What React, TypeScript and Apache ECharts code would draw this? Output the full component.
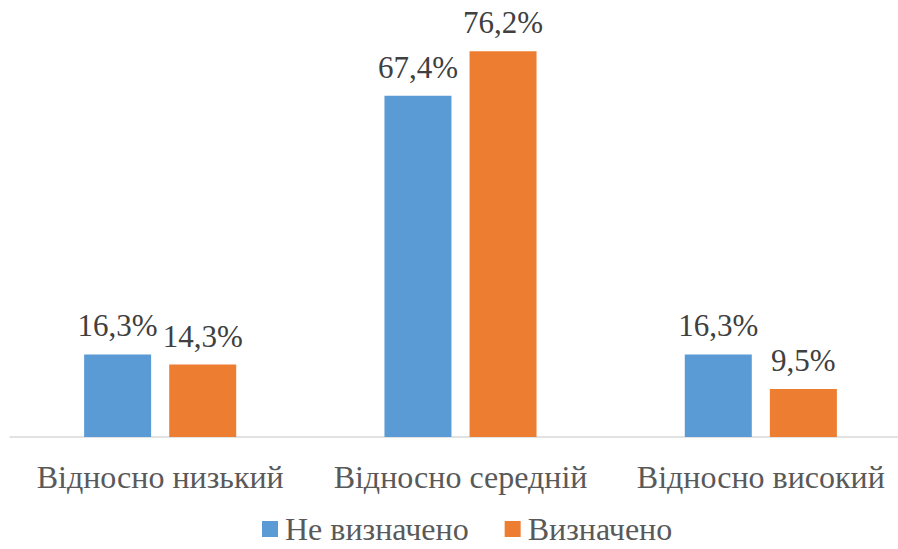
import React, { useEffect, useRef } from "react";
import * as echarts from "echarts";

const categories = ["Відносно низький", "Відносно середній", "Відносно високий"];
const seriesNames = ["Не визначено", "Визначено"];
const notDefined = [16.3, 67.4, 16.3];
const defined = [14.3, 76.2, 9.5];

const FONT = "Times New Roman, Liberation Serif, serif";

export default function App() {
  const ref = useRef<HTMLDivElement>(null);
  useEffect(() => {
    if (!ref.current) return;
    const chart = echarts.init(ref.current, undefined, { renderer: "svg" });
    const label = {
      show: true,
      position: "top" as const,
      distance: 13,
      fontFamily: FONT,
      fontSize: 31,
      color: "#404040",
      formatter: (p: any) => p.value.toFixed(1).replace(".", ",") + "%",
    };
    chart.setOption({
      animation: false,
      backgroundColor: "#ffffff",
      grid: {
        left: 10,
        top: 32,
        right: -13,
        height: 405,
        containLabel: false,
        outerBoundsMode: "none",
      },
      xAxis: {
        type: "category",
        data: categories,
        axisLine: { lineStyle: { color: "#D9D9D9", width: 1.5 } },
        axisTick: { show: false },
        axisLabel: {
          interval: 0,
          hideOverlap: false,
          fontFamily: FONT,
          fontSize: 32,
          color: "#595959",
          margin: 24,
        },
      },
      yAxis: { type: "value", min: 0, max: 80, show: false, splitLine: { show: false } },
      legend: {
        bottom: 4,
        left: 262,
        padding: 0,
        itemWidth: 16,
        itemHeight: 16,
        itemGap: 36,
        icon: "rect",
        textStyle: { fontFamily: FONT, fontSize: 32, color: "#595959", padding: [0, 0, 0, 2] },
        data: seriesNames,
      },
      series: [
        {
          name: seriesNames[0],
          type: "bar",
          data: notDefined,
          barWidth: 67,
          barGap: "27%",
          itemStyle: { color: "#5B9BD5" },
          label,
        },
        {
          name: seriesNames[1],
          type: "bar",
          data: defined,
          barWidth: 67,
          barGap: "27%",
          itemStyle: { color: "#ED7D31" },
          label,
        },
      ],
    });
    return () => chart.dispose();
  }, []);
  return <div ref={ref} style={{ width: 898, height: 549, position: "absolute", left: 0, top: 0 }} />;
}
